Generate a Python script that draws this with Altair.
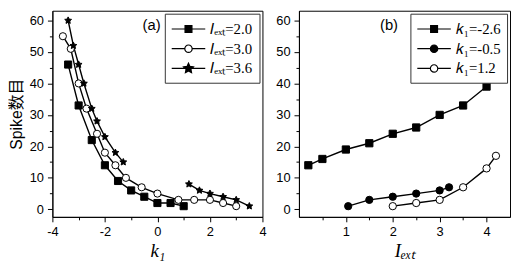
import math
import altair as alt
import pandas as pd

# ---------------- data: panel (a)  Spike count vs k1 ----------------
a_series = ["𝐼ₑₓₜ=2.0", "𝐼ₑₓₜ=3.0", "𝐼ₑₓₜ=3.6"]
a_k1_20 = [-3.4, -3.0, -2.5, -2.0, -1.5, -1.0, -0.5, 0.0, 0.5, 1.0]
a_sp_20 = [46, 33, 22, 14, 9, 6, 4, 2, 2, 1]
a_k1_30 = [-3.6, -3.3, -3.0, -2.7, -2.3, -2.0, -1.6, -1.2, -0.6, 0.0, 0.8, 1.4, 2.0, 2.5, 3.0]
a_sp_30 = [55, 51, 40, 32, 24, 18, 14, 10, 7, 5, 3, 3, 3, 2, 1]
a_k1_36 = [-3.4, -3.2, -3.0, -2.8, -2.5, -2.3, -2.0, -1.6, -1.3, 1.2, 1.6, 2.0, 2.5, 3.0, 3.5]
a_sp_36 = [60, 52, 46, 40, 32, 28, 23, 18, 15, 8, 6, 5, 4, 3, 1]
a_seg_36 = [0, 0, 0, 0, 0, 0, 0, 0, 0, 1, 1, 1, 1, 1, 1]

# ---------------- data: panel (b)  Spike count vs Iext ----------------
b_series = ["𝑘₁=-2.6", "𝑘₁=-0.5", "𝑘₁=1.2"]
b_I_m26 = [0.2, 0.5, 1.0, 1.5, 2.0, 2.5, 3.0, 3.5, 4.0]
b_sp_m26 = [14, 16, 19, 21, 24, 26, 30, 33, 39]
b_I_m05 = [1.05, 1.5, 2.0, 2.5, 3.0, 3.2]
b_sp_m05 = [1, 3, 4, 5, 6, 7]
b_I_12 = [2.0, 2.5, 3.0, 3.5, 4.0, 4.2]
b_sp_12 = [1, 2, 3, 7, 13, 17]

y_ticks = [0, 5, 10, 15, 20, 25, 30, 35, 40, 45, 50, 55, 60]
a_x_ticks = [-4, -3, -2, -1, 0, 1, 2, 3, 4]
b_x_ticks = [0.5, 1, 1.5, 2, 2.5, 3, 3.5, 4]


def build(xs, ys, names, segs=None):
    rows = []
    for i, (xv, yv, nm) in enumerate(zip(xs, ys, names)):
        sg = segs[i] if (segs is not None and segs[i] is not None) else [0] * len(xv)
        for a, b, s in zip(xv, yv, sg):
            rows.append({"x": a, "y": b, "s": nm, "seg": f"{nm}_{s}"})
    return pd.DataFrame(rows)


df_a = build([a_k1_20, a_k1_30, a_k1_36], [a_sp_20, a_sp_30, a_sp_36], a_series,
             [None, None, a_seg_36])
df_b = build([b_I_m26, b_I_m05, b_I_12], [b_sp_m26, b_sp_m05, b_sp_12], b_series)


# ---------------- symbol paths ----------------
def star(cx, ro, ri):
    pts = []
    for i in range(10):
        ang = math.radians(-90 + 36 * i)
        r = ro if i % 2 == 0 else ri
        pts.append(f"{cx + r * math.cos(ang):.3f},{r * math.sin(ang):.3f}")
    return "M" + "L".join(pts) + "Z"


STAR = star(0, 1, 0.48)
LINE = "M-1,0H3"
LEG_SQUARE = LINE + "M0.59,-0.41H1.41V0.41H0.59Z"
LEG_CIRCLE_F = LINE + "M0.56,0A0.44,0.44 0 1,0 1.44,0A0.44,0.44 0 1,0 0.56,0Z"
LEG_CIRCLE_O = "M-1,0H0.56M1.44,0H3M0.56,0A0.44,0.44 0 1,0 1.44,0A0.44,0.44 0 1,0 0.56,0Z"
LEG_STAR = LINE + star(1, 0.62, 0.3)

Y_DOMAIN = [-2.4, 63.1]
H = 209


def panel(df, series, shapes, fills, sizes, leg_paths, xdomain, xvals, xmajor, xtitle,
          ytitle, tag, tagx, width):
    xenc = alt.X("x:Q",
                 scale=alt.Scale(domain=xdomain, nice=False, zero=False),
                 axis=alt.Axis(values=xvals,
                               labelExpr=f"{xmajor} ? toString(datum.value) : ''",
                               tickSize={"condition": {"test": xmajor, "value": 5}, "value": 3},
                               title=xtitle, titleFont="Liberation Serif",
                               titleFontStyle="italic", titleFontSize=19,
                               titleFontWeight="normal", titlePadding=3,
                               labelFlush=False, labelOverlap=False))
    ymajor = "datum.value % 10 === 0"
    yaxis = dict(values=y_ticks,
                 labelExpr=f"{ymajor} ? toString(datum.value) : ''",
                 tickSize={"condition": {"test": ymajor, "value": 5}, "value": 3},
                 labelOverlap=False, labelFlush=False)
    if ytitle:
        yaxis.update(title=ytitle, titleFont="Liberation Sans, Noto Sans CJK SC",
                     titleFontSize=16, titleFontWeight="normal", titlePadding=5)
    else:
        yaxis.update(title=None)
    yenc = alt.Y("y:Q", scale=alt.Scale(domain=Y_DOMAIN, nice=False, zero=False),
                 axis=alt.Axis(**yaxis))

    base = alt.Chart(df)
    lines = base.mark_line(color="black", strokeWidth=1.4).encode(
        x=xenc, y=yenc, detail="seg:N")
    points = base.mark_point(filled=True, stroke="black", strokeWidth=1, opacity=1).encode(
        x=xenc, y=yenc,
        shape=alt.Shape("s:N", scale=alt.Scale(domain=series, range=shapes), legend=None),
        fill=alt.Fill("s:N", scale=alt.Scale(domain=series, range=fills), legend=None),
        size=alt.Size("s:N", scale=alt.Scale(domain=series, range=sizes), legend=None))
    legend_layer = base.transform_filter("false").mark_point(
        filled=True, strokeWidth=1.2, opacity=1).encode(
        shape=alt.Shape("s:N", scale=alt.Scale(domain=series, range=leg_paths),
                        legend=alt.Legend(title=None)),
        fill=alt.Fill("s:N", scale=alt.Scale(domain=series, range=fills),
                      legend=alt.Legend(title=None)),
        stroke=alt.Stroke("s:N", scale=alt.Scale(domain=series,
                                                 range=["black", "black", "black"]),
                          legend=alt.Legend(title=None)))
    tag_df = pd.DataFrame({"x": [tagx], "y": [58.7], "t": [tag]})
    text = alt.Chart(tag_df).mark_text(font="Liberation Sans", fontSize=15,
                                       color="black").encode(x=xenc, y=yenc, text="t:N")
    return alt.layer(lines, points, legend_layer, text).resolve_scale(
        shape="independent", fill="independent", stroke="independent"
    ).properties(width=width, height=H)


pa = panel(df_a, a_series, ["square", "circle", STAR], ["black", "white", "black"],
           [52, 55, 115], [LEG_SQUARE, LEG_CIRCLE_O, LEG_STAR],
           [-4, 4], a_x_ticks, "datum.value % 2 === 0", "k₁", "Spike数目", "(a)", -0.22, 213)
pb = panel(df_b, b_series, ["square", "circle", "circle"], ["black", "black", "white"],
           [52, 55, 55], [LEG_SQUARE, LEG_CIRCLE_F, LEG_CIRCLE_O],
           [0, 4.5], b_x_ticks, "datum.value % 1 === 0", "Iₑₓₜ", None, "(b)", 1.92, 214)

chart = alt.hconcat(pa, pb, spacing=8).properties(padding=0).configure_view(
    stroke="black", strokeWidth=1
).configure_axis(
    grid=False, domainColor="black", tickColor="black", labelColor="black",
    titleColor="black", labelFont="Liberation Sans", labelFontSize=13,
    labelPadding=4, tickWidth=1, domainWidth=1
).configure_legend(
    orient="top-right", offset=3, padding=6, strokeColor="#333", fillColor="white",
    labelFont="Liberation Serif", labelFontSize=15, labelColor="black",
    symbolSize=289, labelOffset=21, rowPadding=2, symbolStrokeWidth=1.2,
    symbolStrokeColor="black"
)

chart.save("out.html", embed_options={"renderer": "svg", "actions": False})
